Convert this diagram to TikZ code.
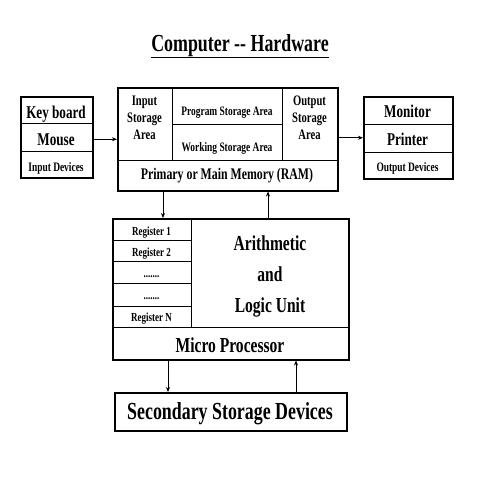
\documentclass[tikz,border=0pt]{standalone}
\usepackage{fontspec}
\setmainfont{Liberation Serif}[FakeStretch=0.73]
\usetikzlibrary{arrows.meta}
\tikzset{
  box/.style={draw, line width=1.5pt, inner sep=0pt, anchor=north west},
  divider/.style={line width=0.8pt},
  arr/.style={line width=0.8pt, -{Stealth[length=5pt,width=4pt]}},
  txt/.style={inner sep=0pt, anchor=base, font=\bfseries\fontsize{#1}{#1}\selectfont},
  mtxt/.style={inner sep=0pt, align=center, font=\bfseries\fontsize{#1}{17}\selectfont},
}
\begin{document}
\begin{tikzpicture}[x=1pt,y=-1pt]
\useasboundingbox (0,0) rectangle (480,480);
% title
\node[txt=24.5] (title) at (240,51) {\underline{Computer {-}{-} Hardware}};
% input devices
\node[box, minimum width=72pt, minimum height=81pt] (inp) at (20,96) {};
\draw[divider] (20,123) -- (92,123);
\draw[divider] (20,151) -- (92,151);
\node[txt=18] (kb) at (56,118) {Key board};
\node[txt=18] (mouse) at (56,145) {Mouse};
\node[txt=12.9] (indev) at (56,171) {Input Devices};
% memory
\node[box, minimum width=220pt, minimum height=103pt] (mem) at (117,87) {};
\draw[divider] (117,160) -- (337,160);
\draw[divider] (172,87) -- (172,160);
\draw[divider] (282,87) -- (282,160);
\draw[divider] (172,124) -- (282,124);
\node[mtxt=14.5] (isa) at (144.5,117.5) {Input\\Storage\\Area};
\node[mtxt=14.5] (osa) at (309.5,117.5) {Output\\Storage\\Area};
\node[txt=12.9] (psa) at (227,115) {Program Storage Area};
\node[txt=12.9] (wsa) at (227,151) {Working Storage Area};
\node[txt=16.2] (ram) at (227,179) {Primary or Main Memory (RAM)};
% output devices
\node[box, minimum width=89pt, minimum height=82pt] (out) at (363,96) {};
\draw[divider] (363,124) -- (452,124);
\draw[divider] (363,152) -- (452,152);
\node[txt=18] (mon) at (407.5,117) {Monitor};
\node[txt=18] (prn) at (407.5,145) {Printer};
\node[txt=12.9] (outdev) at (407.5,171) {Output Devices};
% processor
\node[box, minimum width=236pt, minimum height=141pt] (cpu) at (112,218) {};
\draw[divider] (112,327) -- (348,327);
\draw[divider] (191,218) -- (191,327);
\draw[divider] (112,240) -- (191,240);
\draw[divider] (112,261) -- (191,261);
\draw[divider] (112,283) -- (191,283);
\draw[divider] (112,306) -- (191,306);
\node[txt=12.3] (r1) at (151.5,235) {Register 1};
\node[txt=12.3] (r2) at (151.5,256) {Register 2};
\node[txt=12.3] (d1) at (151.5,277) {.......};
\node[txt=12.3] (d2) at (151.5,299) {.......};
\node[txt=12.3] (rn) at (151.5,321) {Register N};
\node[inner sep=0pt, align=center, font=\bfseries\fontsize{21.3}{31}\selectfont] (alu) at (270,276) {Arithmetic\\and\\Logic Unit};
\node[txt=21.3] (mp) at (230,352) {Micro Processor};
% secondary storage
\node[box, minimum width=232pt, minimum height=38pt] (sec) at (114,392) {};
\node[txt=24.5] (sectxt) at (230,419) {Secondary Storage Devices};
% connectors
\draw[arr] (mem.west -| inp.east) -- (mem.west);
\draw[arr] (mem.east |- out.west) -- (out.west);
\draw[arr] ([xshift=46pt]mem.south west) -- ([xshift=46pt]mem.south west |- cpu.north);
\draw[arr] ([xshift=151pt]mem.south west |- cpu.north) -- ([xshift=151pt]mem.south west);
\draw[arr] ([xshift=56pt]cpu.south west) -- ([xshift=56pt]cpu.south west |- sec.north);
\draw[arr] ([xshift=184pt]cpu.south west |- sec.north) -- ([xshift=184pt]cpu.south west);
\end{tikzpicture}
\end{document}
